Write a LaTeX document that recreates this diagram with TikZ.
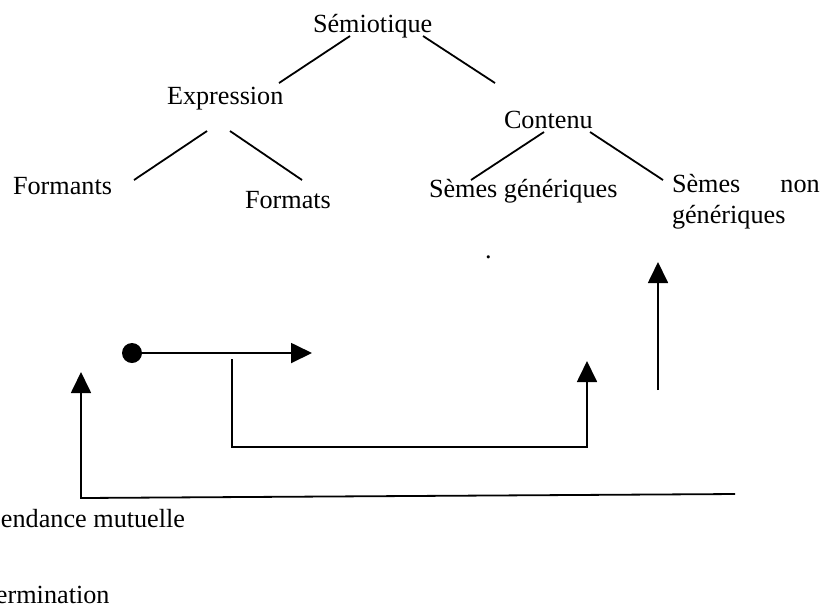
\documentclass[tikz,border=0pt]{standalone}
\usepackage{fontspec}
\setmainfont{Liberation Serif}
\usetikzlibrary{arrows.meta}
\tikzset{
  lbl/.style={anchor=base west, inner sep=0pt, outer sep=0pt, font=\fontsize{13.1pt}{15.5pt}\selectfont},
  tree/.style={line width=0.9pt},
  conn/.style={line width=0.9pt},
  arr/.style={line width=0.9pt, -{Triangle[length=10.5pt, width=10pt]}},
}
\begin{document}
\begin{tikzpicture}[x=0.5pt, y=-0.5pt]
\useasboundingbox (0,0) rectangle (823,607);
\clip (0,0) rectangle (823,607);
% labels
\node[lbl] (sem) at (313,32) {Sémiotique};
\node[lbl] (expr) at (167,104) {Expression};
\node[lbl] (cont) at (504,128) {Contenu};
\node[lbl] (forman) at (13,194) {Formants};
\node[lbl] (format) at (245,208) {Formats};
\node[lbl] (sgen) at (429,197) {Sèmes génériques};
\node[lbl] (snon) at (672,192) {Sèmes\hspace{20pt}non};
\node[lbl] (snon2) at (672,223) {génériques};
\node[lbl] (pt) at (485,258) {.};
\node[lbl] (mut) at (1,527) {endance mutuelle};
\node[lbl] (det) at (-4,603) {ermination};
% tree connector end points
\coordinate (s1) at (350,36);  \coordinate (e1) at (279,83);
\coordinate (s2) at (423,36);  \coordinate (c1) at (495,83);
\coordinate (e2) at (207,131); \coordinate (f1) at (134,180);
\coordinate (e3) at (230,131); \coordinate (f2) at (302,180);
\coordinate (c2) at (544,132); \coordinate (g1) at (471,180);
\coordinate (c3) at (590,132); \coordinate (g2) at (663,180);
\draw[tree] (s1) -- (e1);
\draw[tree] (s2) -- (c1);
\draw[tree] (e2) -- (f1);
\draw[tree] (e3) -- (f2);
\draw[tree] (c2) -- (g1);
\draw[tree] (c3) -- (g2);
% lower arrows
\coordinate (dot) at (132,353);
\coordinate (h1) at (312,353);
\fill (dot) circle (10);
\draw[arr] (dot) -- (h1);
\coordinate (m1) at (232,359);
\coordinate (m2) at (232,447);
\coordinate (m3) at (587,447);
\coordinate (m4) at (587,361);
\draw[conn, arr] (m1) -- (m2) -- (m3) -- (m4);
\coordinate (l1) at (735,494);
\coordinate (l2) at (81,498);
\coordinate (l3) at (81,372);
\draw[arr] (l1) -- (l2) -- (l3);
\coordinate (r1) at (658,390);
\coordinate (r2) at (658,262);
\draw[arr] (r1) -- (r2);
\end{tikzpicture}
\end{document}
